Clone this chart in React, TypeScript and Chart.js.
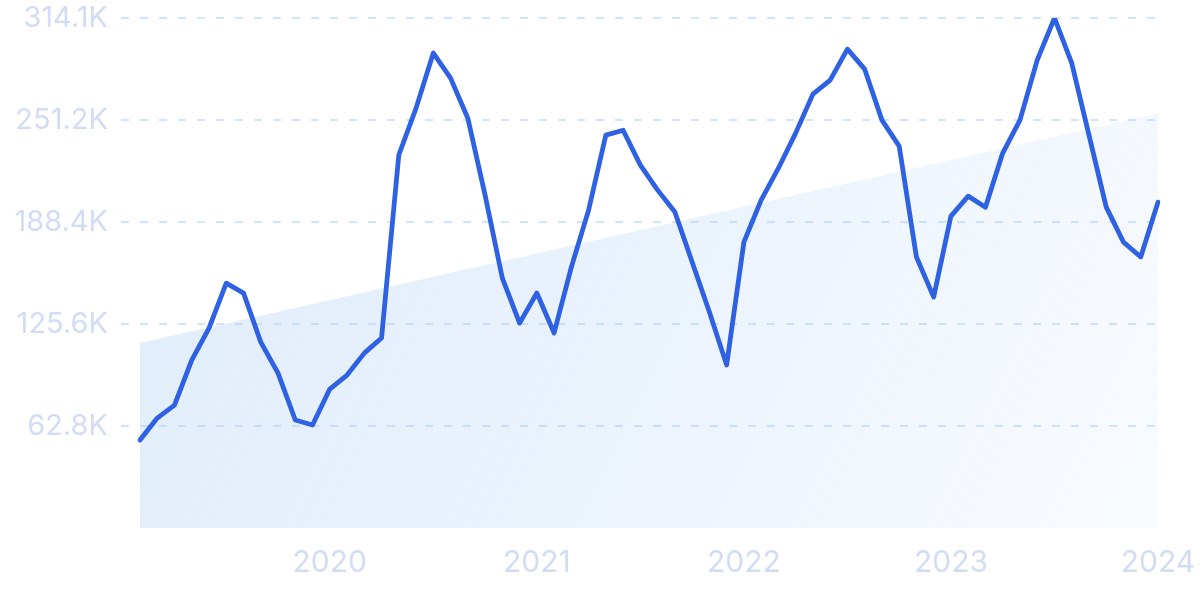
import { useEffect, useRef } from "react";
import { Chart, registerables } from "chart.js";

Chart.register(...registerables);

const months = [
  "2019-02", "2019-03", "2019-04", "2019-05", "2019-06", "2019-07", "2019-08", "2019-09", "2019-10", "2019-11", "2019-12",
  "2020-01", "2020-02", "2020-03", "2020-04", "2020-05", "2020-06", "2020-07", "2020-08", "2020-09", "2020-10", "2020-11", "2020-12",
  "2021-01", "2021-02", "2021-03", "2021-04", "2021-05", "2021-06", "2021-07", "2021-08", "2021-09", "2021-10", "2021-11", "2021-12",
  "2022-01", "2022-02", "2022-03", "2022-04", "2022-05", "2022-06", "2022-07", "2022-08", "2022-09", "2022-10", "2022-11", "2022-12",
  "2023-01", "2023-02", "2023-03", "2023-04", "2023-05", "2023-06", "2023-07", "2023-08", "2023-09", "2023-10", "2023-11", "2023-12",
  "2024-01",
];

const searches = [
  54200, 67700, 75700, 103400, 123100, 150800, 144700, 114500, 95400, 66500, 63400,
  85600, 94200, 107700, 117000, 229700, 258600, 292500, 277100, 252400, 205000, 153900, 126200,
  144700, 120100, 160700, 195800, 242000, 245000, 223500, 208100, 194600, 163800, 133000, 100400,
  176100, 201900, 221600, 243200, 267200, 275800, 294900, 282600, 251200, 235200, 166900, 142200,
  192100, 204400, 197600, 230900, 251200, 288200, 314100, 286300, 242000, 197600, 176100, 166900,
  200700,
];

const trendStart = 113900;
const trendEnd = 255500;

const yTickValues = [62820, 125640, 188460, 251280, 314100];
const yTickLabels = ["62.8K", "125.6K", "188.4K", "251.2K", "314.1K"];

const FONT = "Inter, 'Noto Sans', sans-serif";
const LABEL_COLOR = "#D3DCF5";
const GRID_COLOR = "#D2E3FC";

export default function App() {
  const canvasRef = useRef<HTMLCanvasElement | null>(null);

  useEffect(() => {
    document.body.style.margin = "0";
    const canvas = canvasRef.current;
    if (!canvas) return;

    const trendFill = (ctx: any) => {
      const chart = ctx.chart;
      const area = chart.chartArea;
      if (!area) return "rgba(180,210,245,0.3)";
      const g = chart.ctx.createLinearGradient(area.left, area.top, area.right, area.bottom);
      g.addColorStop(0, "rgba(180,210,245,0.42)");
      g.addColorStop(0.5, "rgba(180,210,245,0.28)");
      g.addColorStop(1, "rgba(180,210,245,0.08)");
      return g;
    };

    const chart = new Chart(canvas, {
      type: "line",
      data: {
        labels: months,
        datasets: [
          {
            label: "Searches",
            data: searches,
            borderColor: "#2E62E3",
            borderWidth: 4.8,
            pointRadius: 0,
            tension: 0,
            fill: false,
            borderJoinStyle: "round",
            borderCapStyle: "round",
          },
          {
            label: "Trend",
            data: [
              { x: months[0], y: trendStart },
              { x: months[months.length - 1], y: trendEnd },
            ] as any,
            borderWidth: 0,
            borderColor: "rgba(0,0,0,0)",
            pointRadius: 0,
            fill: "origin",
            backgroundColor: trendFill,
            tension: 0,
          },
        ],
      },
      options: {
        responsive: false,
        animation: false,
        layout: { padding: { left: 0, right: 42, top: 18, bottom: 0 } },
        plugins: {
          legend: { display: false },
          tooltip: { enabled: false },
        },
        scales: {
          x: {
            type: "category",
            grid: { display: false, drawTicks: false },
            border: { display: false },
            afterBuildTicks: (scale: any) => {
              scale.ticks = scale.ticks.filter((t: any) => months[t.value].endsWith("-01"));
            },
            afterFit: (scale: any) => {
              scale.height = 71;
              scale.paddingLeft = 0;
              scale.paddingRight = 0;
            },
            ticks: {
              autoSkip: false,
              maxRotation: 0,
              padding: 17,
              color: LABEL_COLOR,
              font: { family: FONT, size: 30 },
              callback: (value: any) => months[value as number].slice(0, 4),
            },
          },
          y: {
            min: 0,
            max: 314100,
            grid: {
              color: GRID_COLOR,
              lineWidth: 2,
              tickLength: 19,
              tickColor: GRID_COLOR,
              tickBorderDash: [8, 11],
              tickWidth: 2,
            },
            border: { display: false, dash: [8, 11] },
            afterBuildTicks: (scale: any) => {
              scale.ticks = yTickValues.map((v) => ({ value: v }));
            },
            afterFit: (scale: any) => {
              scale.width = 140;
              scale.paddingTop = 0;
              scale.paddingBottom = 0;
            },
            ticks: {
              padding: 13,
              color: LABEL_COLOR,
              font: { family: FONT, size: 29 },
              callback: (_v: any, i: number) => yTickLabels[i],
            },
          },
        },
      },
    });

    return () => chart.destroy();
  }, []);

  return (
    <div style={{ position: "fixed", left: 0, top: 0, width: 1200, height: 599 }}>
      <canvas ref={canvasRef} width={1200} height={599} />
    </div>
  );
}
